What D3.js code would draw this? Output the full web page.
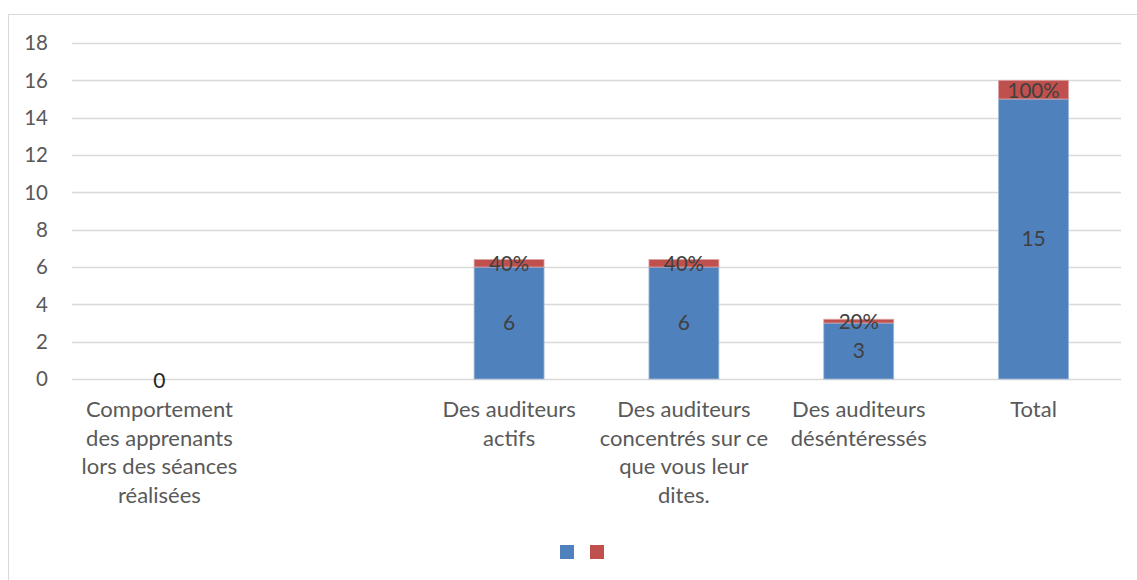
<!DOCTYPE html>
<html>
<head>
<meta charset="utf-8">
<script src="https://cdn.jsdelivr.net/npm/d3@7"></script>
<style>
  body { margin: 0; background: #fff; }
  svg text { font-family: Lato, "Open Sans", sans-serif; }
</style>
</head>
<body>
<svg width="1137" height="580"></svg>
<script>
const categories = [
    "Comportement des apprenants lors des séances réalisées",
    "",
    "Des auditeurs actifs",
    "Des auditeurs concentrés sur ce que vous leur dites.",
    "Des auditeurs déséntéressés",
    "Total"
];
const countValues = [0, null, 6, 6, 3, 15];
const shareValues = [null, null, 0.4, 0.4, 0.2, 1];
const yTicks = [0, 2, 4, 6, 8, 10, 12, 14, 16, 18];

const blue = "#4f81bd", red = "#c0504d";
const svg = d3.select("svg");

// chart frame
svg.append("path")
    .attr("d", "M8.5,580 V14.5 H1137")
    .attr("fill", "none")
    .attr("stroke", "#d9d9d9");

const plotLeft = 72, plotRight = 1121, plotTop = 43, plotBottom = 379;

const x = d3.scaleBand()
    .domain(d3.range(categories.length))
    .range([plotLeft, plotRight])
    .paddingInner(0.6)
    .paddingOuter(0.3);
const y = d3.scaleLinear().domain([0, 18]).range([plotBottom, plotTop]);

// grid
svg.append("g").selectAll("line")
    .data(yTicks)
    .enter().append("line")
        .attr("x1", plotLeft)
        .attr("x2", plotRight)
        .attr("y1", d => Math.round(y(d)) + 0.5)
        .attr("y2", d => Math.round(y(d)) + 0.5)
        .attr("stroke", "#d9d9d9")
        .attr("stroke-width", 1.5);

svg.append("g").selectAll("text")
    .data(yTicks)
    .enter().append("text")
        .attr("x", 48)
        .attr("y", d => y(d))
        .attr("dy", "0.35em")
        .attr("text-anchor", "end")
        .attr("font-size", 20.5)
        .attr("fill", "#595959")
        .text(d => d);

// bars
const rows = categories.map((c, i) => ({ i, count: countValues[i], share: shareValues[i] }));

svg.append("g").selectAll("rect")
    .data(rows.filter(d => d.count))
    .enter().append("rect")
        .attr("x", d => x(d.i))
        .attr("y", d => y(d.count))
        .attr("width", x.bandwidth())
        .attr("height", d => y(0) - y(d.count))
        .attr("fill", blue)
        .attr("stroke", "#9fb9da")
        .attr("stroke-width", 0.8);

svg.append("g").selectAll("rect")
    .data(rows.filter(d => d.share))
    .enter().append("rect")
        .attr("x", d => x(d.i))
        .attr("y", d => y(d.count + d.share))
        .attr("width", x.bandwidth())
        .attr("height", d => y(d.count) - y(d.count + d.share))
        .attr("fill", red)
        .attr("stroke", "#dba3a1")
        .attr("stroke-width", 0.8);

// data labels
svg.append("g").selectAll("text")
    .data(rows.filter(d => d.count !== null))
    .enter().append("text")
        .attr("x", d => x(d.i) + x.bandwidth() / 2)
        .attr("y", d => d.count ? y(d.count / 2) : y(0) + 2)
        .attr("dy", "0.35em")
        .attr("text-anchor", "middle")
        .attr("font-size", 21)
        .attr("fill", d => d.count ? "#404040" : "#262626")
        .text(d => d.count);

svg.append("g").selectAll("text")
    .data(rows.filter(d => d.share))
    .enter().append("text")
        .attr("x", d => x(d.i) + x.bandwidth() / 2)
        .attr("y", d => y(d.count + d.share / 2) + 1)
        .attr("dy", "0.35em")
        .attr("text-anchor", "middle")
        .attr("font-size", 20.5)
        .attr("fill", "#404040")
        .text(d => d3.format(".0%")(d.share));

// category labels, wrapped to the band step
const catG = svg.append("g");
categories.forEach((c, i) => {
    const cx = x(i) + x.bandwidth() / 2;
    const t = catG.append("text")
        .attr("x", cx)
        .attr("y", 417)
        .attr("text-anchor", "middle")
        .attr("font-size", 22)
        .attr("fill", "#595959");
    const words = c.split(" ").filter(w => w);
    let line = [];
    let span = t.append("tspan").attr("x", cx).attr("dy", 0);
    words.forEach(w => {
        line.push(w);
        span.text(line.join(" "));
        if (span.node().getComputedTextLength() > 178 && line.length > 1) {
            line.pop();
            span.text(line.join(" "));
            line = [w];
            span = t.append("tspan").attr("x", cx).attr("dy", 28.7).text(w);
        }
    });
});

// legend (no labels)
svg.append("g").selectAll("rect")
    .data([blue, red])
    .enter().append("rect")
        .attr("x", (d, i) => 560 + i * 30)
        .attr("y", 545)
        .attr("width", 14)
        .attr("height", 14)
        .attr("fill", d => d);
</script>
</body>
</html>
